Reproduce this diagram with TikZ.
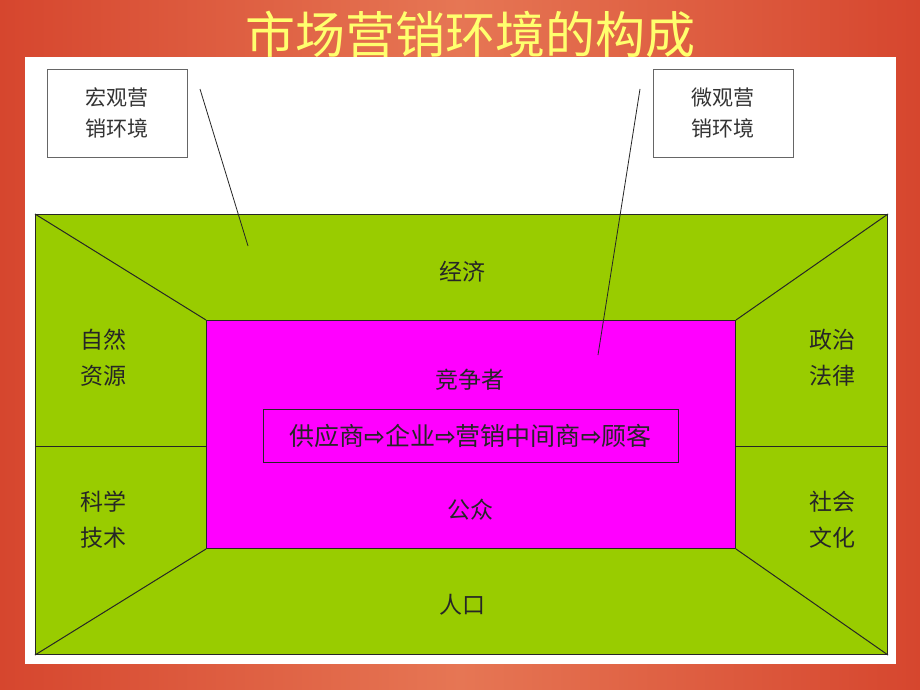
\documentclass[tikz,border=0pt]{standalone}
\usepackage{fontspec}
\newfontfamily\cjk{Noto Sans CJK SC}
\newfontfamily\arrowfont{DejaVu Sans}
\usetikzlibrary{positioning}
\definecolor{bgred}{RGB}{214,70,46}
\definecolor{bglight}{RGB}{230,118,84}
\definecolor{envgreen}{RGB}{153,204,0}
\definecolor{envmagenta}{RGB}{255,0,255}
\definecolor{titleyellow}{RGB}{255,255,110}
\newcommand{\flowarrow}{{\arrowfont\bfseries\fontsize{25}{25}\selectfont ⇨}}

\begin{document}
\begin{tikzpicture}[x=1pt, y=-1pt,
    edge line/.style={draw=black!85, line width=1pt},
    tag box/.style={draw=black!60, fill=white, minimum width=140pt, minimum height=88pt, align=center, inner sep=0pt, font=\cjk\fontsize{21}{31}\selectfont, text=black!80},
    zone text/.style={align=center, inner sep=0pt, font=\cjk\fontsize{23}{36}\selectfont, text=black!85}]
  % background
  \shade[left color=bgred, right color=bgred, middle color=bglight] (0,0) rectangle (920,690);
  \useasboundingbox (0,0) rectangle (920,690);
  \node[text=titleyellow, font=\cjk\fontsize{50}{50}\selectfont] (title) at (470,34) {市场营销环境的构成};
  \fill[white] (25,57) rectangle (896,664);

  % outer and inner fields
  \node[edge line, fill=envgreen, minimum width=852pt, minimum height=440pt, anchor=north west, inner sep=0pt] (outer) at (35,214) {};
  \node[edge line, fill=envmagenta, minimum width=529pt, minimum height=228pt, anchor=north west, inner sep=0pt] (inner) at (206,320) {};
  \draw[edge line] (outer.north west) -- (inner.north west)
                   (outer.north east) -- (inner.north east)
                   (outer.south west) -- (inner.south west)
                   (outer.south east) -- (inner.south east);
  \draw[edge line] ([yshift=-12pt]outer.west) -- ([yshift=-12pt]inner.west)
                   ([yshift=-12pt]outer.east) -- ([yshift=-12pt]inner.east);

  % labels
  \node[tag box, anchor=north west] (macro) at (47,69) {宏观营\\销环境};
  \node[tag box, anchor=north west] (micro) at (653,69) {微观营\\销环境};
  \coordinate (macro from) at (200,89);
  \coordinate (macro to) at (248,246);
  \coordinate (micro from) at (640,89);
  \coordinate (micro to) at (598,355);
  \draw[black!85, line width=0.8pt] (macro from) -- (macro to);
  \draw[black!85, line width=0.8pt] (micro from) -- (micro to);

  \node[zone text] (economy) at (462,272) {经济};
  \node[zone text] (nature) at (103,358) {自然\\资源};
  \node[zone text] (politics) at (832,358) {政治\\法律};
  \node[zone text] (science) at (103,520) {科学\\技术};
  \node[zone text] (culture) at (832,520) {社会\\文化};
  \node[zone text] (people) at (462,605) {人口};
  \node[zone text] (rivals) at (470,380) {竞争者};
  \node[zone text] (public) at (470,510) {公众};
  \node[draw=black!85, line width=1pt, minimum width=415pt, minimum height=53pt, inner sep=0pt, font=\cjk\fontsize{25}{25}\selectfont, text=black!85] (chain) at (470.5,435.5)
    {供应商\flowarrow 企业\flowarrow 营销中间商\flowarrow 顾客};
\end{tikzpicture}
\end{document}
